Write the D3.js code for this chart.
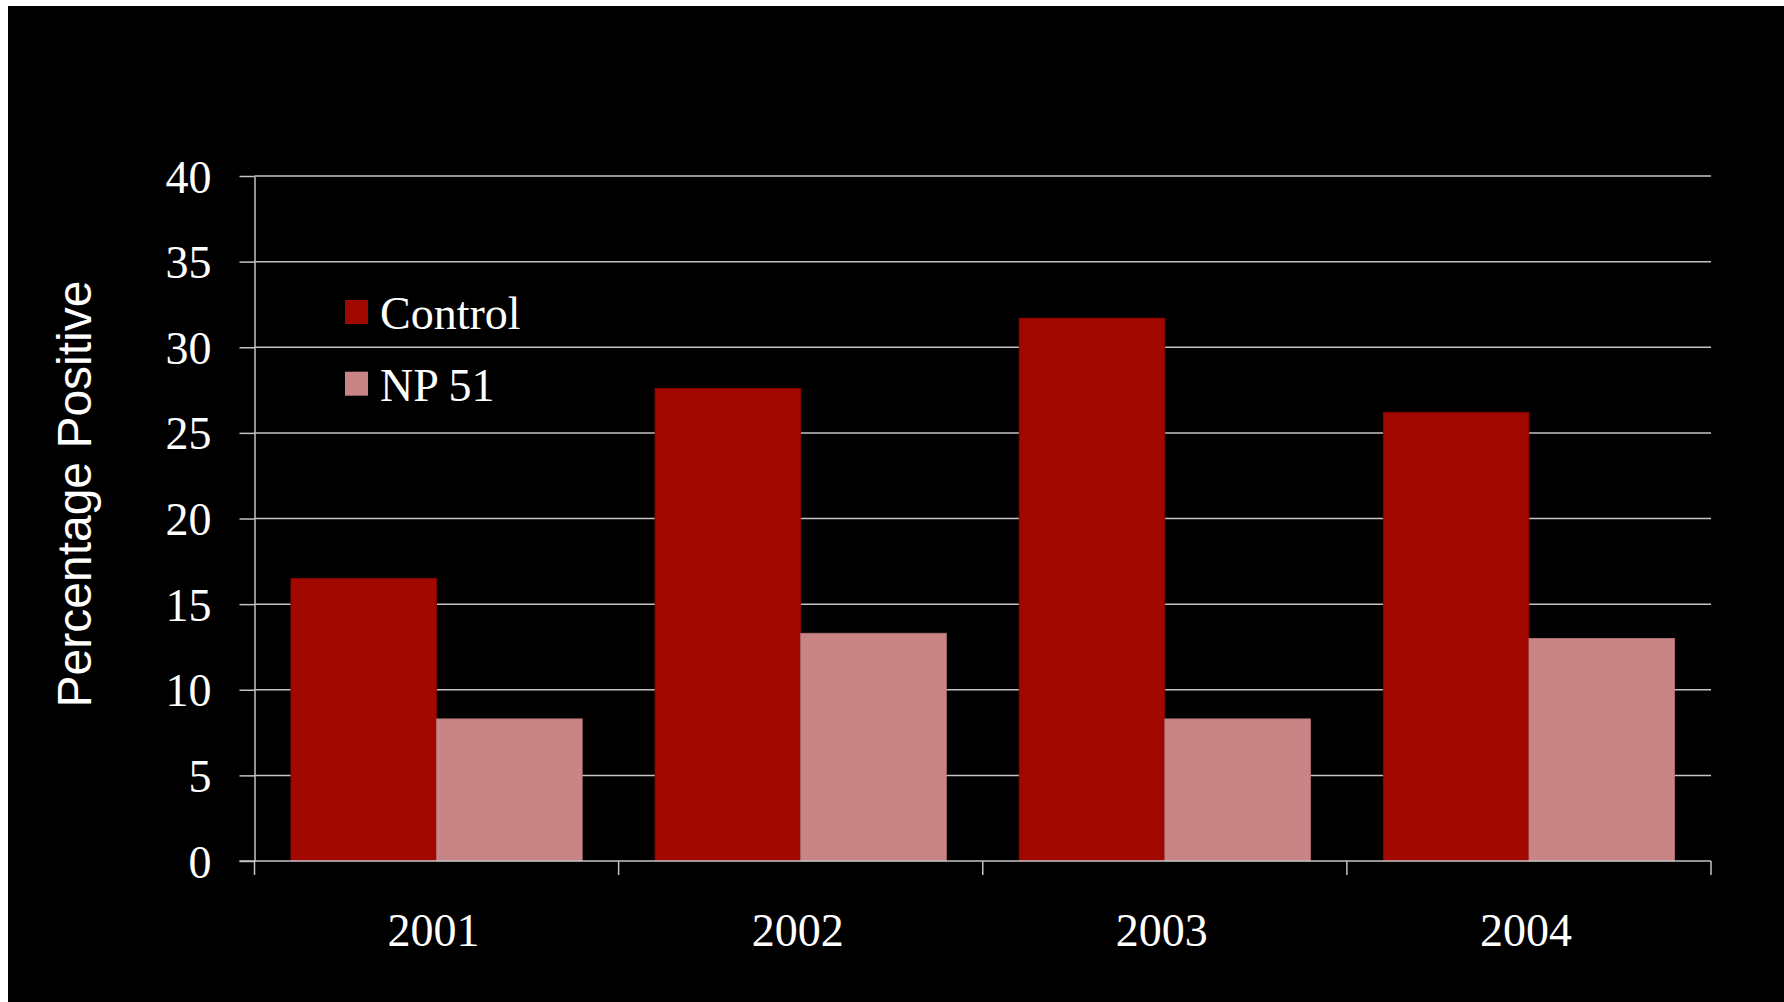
<!DOCTYPE html>
<html>
<head>
<meta charset="utf-8">
<script src="https://cdn.jsdelivr.net/npm/d3@7"></script>
<style>
  html, body { margin: 0; padding: 0; background: #ffffff; }
  svg { display: block; }
</style>
</head>
<body>
<svg id="chart" width="1784" height="1002"></svg>
<script>
const categories = ["2001", "2002", "2003", "2004"];
const seriesNames = ["Control", "NP 51"];
const controlValues = [16.5, 27.6, 31.7, 26.2];
const np51Values = [8.3, 13.3, 8.3, 13.0];
const yTicks = [0, 5, 10, 15, 20, 25, 30, 35, 40];
const yLabel = "Percentage Positive";
const colors = ["#a00800", "#c98585"];

const svg = d3.select("#chart");
const W = 1784, H = 1002;

// black background with thin white margin at top/left
svg.append("rect").attr("x", 8).attr("y", 6).attr("width", W - 8).attr("height", H - 6).attr("fill", "#000");

const plot = { left: 254.5, right: 1711, top: 176, bottom: 861 };

const x0 = d3.scaleBand().domain(categories).range([plot.left, plot.right]).paddingInner(0.2).paddingOuter(0.1);
const x1 = d3.scaleBand().domain(seriesNames).range([0, x0.bandwidth()]);
const xEdge = d3.scaleBand().domain(categories).range([plot.left, plot.right]).padding(0);
const y = d3.scaleLinear().domain([0, 40]).range([plot.bottom, plot.top]);

const gridColor = "#c4c4c4";

// gridlines + y ticks
const yAxis = d3.axisLeft(y).tickValues(yTicks).tickSize(15).tickSizeOuter(0).tickFormat(d3.format("d")).tickPadding(28);
const gy = svg.append("g").attr("transform", `translate(${plot.left},0)`).call(yAxis);
gy.select(".domain").attr("stroke", gridColor).attr("stroke-width", 1.5);
gy.selectAll(".tick line").attr("stroke", gridColor).attr("stroke-width", 1.5);
gy.selectAll(".tick text")
  .attr("fill", "#fff")
  .attr("font-family", "'Liberation Serif', 'Times New Roman', serif")
  .attr("font-size", 46)
  .attr("dy", "0.35em");

svg.append("g").selectAll("line").data(yTicks.filter(d => d > 0)).join("line")
  .attr("x1", plot.left).attr("x2", plot.right)
  .attr("y1", d => y(d)).attr("y2", d => y(d))
  .attr("stroke", gridColor).attr("stroke-width", 1.5);

// bars
const series = [controlValues, np51Values];
const barsG = svg.append("g");
categories.forEach((c, i) => {
  seriesNames.forEach((s, j) => {
    const v = series[j][i];
    barsG.append("rect")
      .attr("x", x0(c) + x1(s))
      .attr("y", y(v))
      .attr("width", x1.bandwidth())
      .attr("height", y(0) - y(v))
      .attr("fill", colors[j])
      .attr("stroke", j === 0 ? "#8a0600" : "#b87474")
      .attr("stroke-width", 0.8);
  });
});

// x axis baseline and ticks
svg.append("line")
  .attr("x1", plot.left - 15).attr("x2", plot.right)
  .attr("y1", y(0)).attr("y2", y(0))
  .attr("stroke", gridColor).attr("stroke-width", 1.5);
const edges = categories.map(c => xEdge(c)).concat([plot.right]);
svg.append("g").selectAll("line").data(edges).join("line")
  .attr("x1", d => d).attr("x2", d => d)
  .attr("y1", y(0)).attr("y2", y(0) + 14)
  .attr("stroke", gridColor).attr("stroke-width", 1.5);

// x labels
svg.append("g").selectAll("text").data(categories).join("text")
  .attr("x", d => x0(d) + x0.bandwidth() / 2 - 3)
  .attr("y", 946)
  .attr("text-anchor", "middle")
  .attr("fill", "#fff")
  .attr("font-family", "'Liberation Serif', 'Times New Roman', serif")
  .attr("font-size", 46)
  .text(d => d);

// y axis label
svg.append("text")
  .attr("transform", `translate(91,494) rotate(-90)`)
  .attr("text-anchor", "middle")
  .attr("fill", "#fff")
  .attr("font-family", "'Liberation Sans', Arial, sans-serif")
  .attr("font-size", 48)
  .text(yLabel);

// legend
const legend = svg.append("g");
seriesNames.forEach((s, j) => {
  const ly = 300 + j * 71.7;
  legend.append("rect")
    .attr("x", 345).attr("y", ly).attr("width", 23).attr("height", 24)
    .attr("fill", colors[j]);
  legend.append("text")
    .attr("x", 380).attr("y", ly + 29)
    .attr("fill", "#fff")
    .attr("font-family", "'Liberation Serif', 'Times New Roman', serif")
    .attr("font-size", 46)
    .text(s);
});
</script>
</body>
</html>
